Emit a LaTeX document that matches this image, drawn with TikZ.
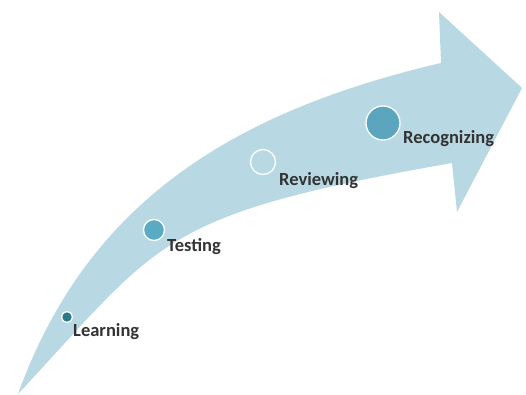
\documentclass[tikz,border=0pt]{standalone}
\usepackage{fontspec}
\setmainfont{Carlito}
\usetikzlibrary{calc}

\definecolor{arrowblue}{RGB}{184,217,227}
\definecolor{darkteal}{RGB}{42,122,138}
\definecolor{midteal}{RGB}{90,170,196}
\definecolor{deepteal}{RGB}{91,165,191}

\tikzset{
	stage/.style={circle,draw=white,line width=1.3pt,inner sep=0pt},
	stagelbl/.style={anchor=base west,inner sep=0pt,text=black!80,font=\fontsize{18.5}{20}\selectfont\bfseries}
}

\begin{document}
\begin{tikzpicture}[x=1pt,y=1pt]
			\useasboundingbox (0,0) rectangle (526,394);
			\coordinate (tail) at (18,0);
			\coordinate (top) at (441,331);
			\coordinate (barbT) at (439,382);
			\coordinate (tip) at (522,306);
			\coordinate (barbB) at (457,182);
			\coordinate (bot) at (452,231);
			
			% Curved arrow body
			\fill[arrowblue] (tail) .. controls (86,188) and (227,281) .. (top)
				-- (barbT) -- (tip) -- (barbB) -- (bot)
				.. controls (156,179) and (161,153) .. (tail) -- cycle;
			
			% Stages along the arrow
			\node[stage,fill=darkteal,minimum size=11pt] (learn) at (67,77) {};
			\node[stage,fill=midteal,minimum size=21pt] (test) at (154,164) {};
			\node[stage,fill=arrowblue,minimum size=25pt] (review) at (263,232) {};
			\node[stage,fill=deepteal,minimum size=34pt] (recog) at (383,271) {};
			
			\node[stagelbl] (learnlbl) at (73,58) {Learning};
			\node[stagelbl] (testlbl) at (167,143) {Testing};
			\node[stagelbl] (reviewlbl) at (279,209) {Reviewing};
			\node[stagelbl] (recoglbl) at (403,251) {Recognizing};
		\end{tikzpicture}
\end{document}
